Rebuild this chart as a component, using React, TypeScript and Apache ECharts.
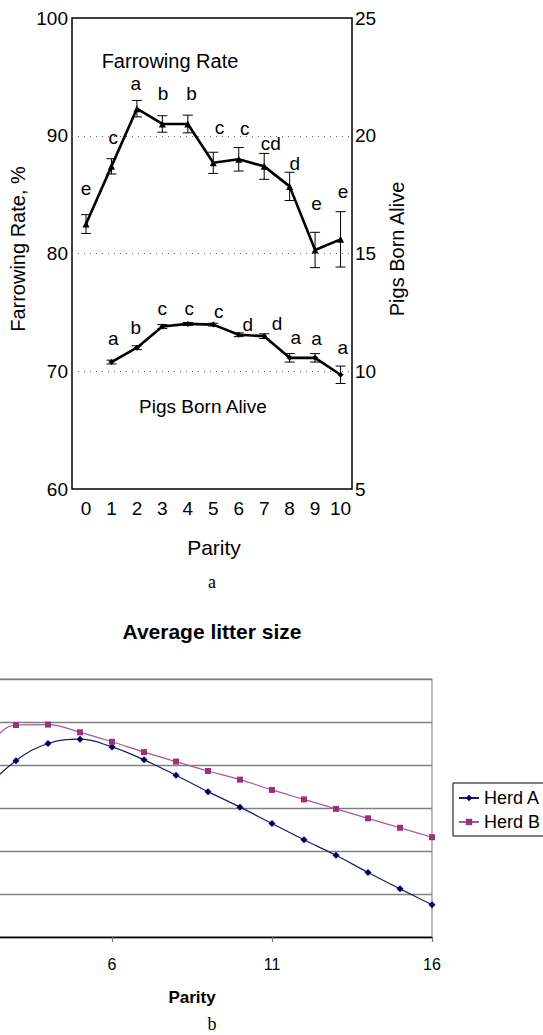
import React, { useEffect, useRef } from "react";
import * as echarts from "echarts";

// ---- Chart a: Farrowing rate & pigs born alive by parity ----
const parity = [0, 1, 2, 3, 4, 5, 6, 7, 8, 9, 10];
const farrowingRate = [82.5, 87.4, 92.3, 91.0, 91.0, 87.7, 88.0, 87.4, 85.7, 80.3, 81.2];
const farrowingErr = [0.8, 0.65, 0.7, 0.7, 0.75, 0.9, 1.0, 1.1, 1.2, 1.5, 2.35];
const farrowingLetters = ["e", "c", "a", "b", "b", "c", "c", "cd", "d", "e", "e"];
const farrowingLetterX = [0, 1.07, 1.96, 3.03, 4.15, 5.24, 6.24, 7.26, 8.2, 9.06, 10.1];
const farrowingLetterY = [85.5, 89.85, 94.4, 93.55, 93.55, 90.7, 90.6, 89.35, 87.65, 84.25, 85.3];

const pbaParity = [1, 2, 3, 4, 5, 6, 7, 8, 9, 10];
const pigsBornAlive = [10.39, 11.0, 11.9, 12.01, 11.98, 11.55, 11.49, 10.57, 10.57, 9.85];
const pbaErr = [0.08, 0.08, 0.08, 0.06, 0.06, 0.08, 0.1, 0.18, 0.18, 0.37];
const pbaLetters = ["a", "b", "c", "c", "c", "d", "d", "a", "a", "a"];
const pbaLetterX = [1.07, 1.96, 3.0, 4.06, 5.22, 6.36, 7.5, 8.24, 9.06, 10.09];
const pbaLetterY = [11.38, 11.87, 12.65, 12.65, 12.55, 11.99, 12.02, 11.42, 11.38, 11.02];

const leftTicks = { min: 60, max: 100, step: 10 };
const rightTicks = { min: 5, max: 25, step: 5 };

// ---- Chart b: Average litter size ----
const herdParity = ["1", "2", "3", "4", "5", "6", "7", "8", "9", "10", "11", "12", "13", "14", "15", "16"];
const herdA = [10.7, 11.2, 11.55, 11.75, 11.8, 11.71, 11.56, 11.38, 11.19, 11.01, 10.82, 10.63, 10.45, 10.25, 10.06, 9.875];
const herdB = [11.2, 11.65, 11.965, 11.97, 11.88, 11.77, 11.65, 11.54, 11.43, 11.33, 11.21, 11.1, 10.99, 10.88, 10.77, 10.66];
const litterTicks = { min: 9.5, max: 12.5, step: 0.5 };

const SANS = "'Liberation Sans', Arial, Helvetica, sans-serif";
const SERIF = "'Liberation Serif', 'Times New Roman', serif";

// the canvas starts left of the page so the cropped left part of chart b is off-screen
const OX = 48;

function errorBarRender(params: any, api: any) {
  const x = api.value(0);
  const lo = api.value(1);
  const hi = api.value(2);
  const top = api.coord([x, hi]);
  const bot = api.coord([x, lo]);
  const hw = 5;
  const style = { stroke: "#000", lineWidth: 1 };
  return {
    type: "group",
    children: [
      { type: "line", shape: { x1: top[0], y1: top[1], x2: bot[0], y2: bot[1] }, style },
      { type: "line", shape: { x1: top[0] - hw, y1: top[1], x2: top[0] + hw, y2: top[1] }, style },
      { type: "line", shape: { x1: bot[0] - hw, y1: bot[1], x2: bot[0] + hw, y2: bot[1] }, style },
    ],
  };
}

function letterRender(letters: string[]) {
  return (params: any, api: any) => {
    const p = api.coord([api.value(0), api.value(1)]);
    return {
      type: "text",
      x: p[0],
      y: p[1],
      style: {
        text: letters[params.dataIndex],
        fontSize: 19,
        fontFamily: SANS,
        fill: "#000",
        align: "center",
        verticalAlign: "middle",
      },
    };
  };
}

function label(text: string, x: number, y: number, fontSize: number, extra: any = {}, rotation = 0) {
  return {
    type: "text",
    x: x + OX,
    y,
    rotation,
    style: {
      text,
      fontSize,
      fontFamily: SANS,
      fill: "#000",
      align: "center",
      verticalAlign: "middle",
      ...extra,
    },
  };
}

export default function App() {
  const ref = useRef<HTMLDivElement>(null);

  useEffect(() => {
    if (!ref.current) return;
    const chart = echarts.init(ref.current, undefined, { renderer: "svg" });

    const option: any = {
      animation: false,
      backgroundColor: "#fff",
      textStyle: { fontFamily: SANS },
      grid: [
        {
          left: 72 + OX,
          top: 18,
          width: 280,
          height: 471,
          show: true,
          borderColor: "#000",
          borderWidth: 1.5,
          backgroundColor: "transparent",
        },
        {
          left: 0,
          top: 679,
          width: 480,
          height: 258,
          show: true,
          borderColor: "#8a8a8a",
          borderWidth: 1.2,
          backgroundColor: "transparent",
        },
      ],
      xAxis: [
        {
          type: "value",
          gridIndex: 0,
          min: -0.55,
          max: 10.45,
          axisLine: { show: false },
          axisTick: { show: false },
          splitLine: { show: false },
          axisLabel: {
            customValues: parity,
            fontSize: 19,
            color: "#000",
            margin: 10,
            fontFamily: SANS,
          },
        },
        {
          type: "category",
          gridIndex: 1,
          data: herdParity,
          boundaryGap: false,
          axisLine: { show: true, lineStyle: { color: "#000", width: 1.3 } },
          axisTick: {
            show: true,
            interval: (i: number) => i % 5 === 0,
            length: 5,
            lineStyle: { color: "#777", width: 1.2 },
          },
          axisLabel: {
            interval: (i: number) => i % 5 === 0 && i > 0,
            fontSize: 16,
            color: "#000",
            margin: 19,
            fontFamily: SANS,
          },
          splitLine: { show: false },
        },
      ],
      yAxis: [
        {
          type: "value",
          gridIndex: 0,
          position: "left",
          min: leftTicks.min,
          max: leftTicks.max,
          interval: leftTicks.step,
          axisLine: { show: false },
          axisTick: { show: false },
          axisLabel: { fontSize: 19, color: "#000", margin: 4, fontFamily: SANS },
          splitLine: {
            show: true,
            showMinLine: false,
            showMaxLine: false,
            lineStyle: { color: "#666", width: 1, type: [1, 5] },
          },
        },
        {
          type: "value",
          gridIndex: 0,
          position: "right",
          min: rightTicks.min,
          max: rightTicks.max,
          interval: rightTicks.step,
          axisLine: { show: false },
          axisTick: { show: false },
          axisLabel: { fontSize: 19, color: "#000", margin: 3, fontFamily: SANS },
          splitLine: { show: false },
        },
        {
          type: "value",
          gridIndex: 1,
          min: litterTicks.min,
          max: litterTicks.max,
          interval: litterTicks.step,
          axisLine: { show: false },
          axisTick: { show: false },
          axisLabel: { show: false },
          splitLine: { show: true, lineStyle: { color: "#808080", width: 1.3 } },
        },
      ],
      legend: {
        data: ["Herd A", "Herd B"],
        orient: "vertical",
        left: 453 + OX,
        top: 783,
        itemWidth: 20,
        itemHeight: 8,
        itemGap: 6,
        padding: [6, 9, 5, 5],
        borderColor: "#000",
        borderWidth: 1,
        textStyle: { fontSize: 18, color: "#000", fontFamily: SANS },
      },
      graphic: [
        label("Farrowing Rate", 170, 61, 20),
        label("Pigs Born Alive", 203, 406, 19),
        label("Farrowing Rate, %", 18, 249, 20, {}, Math.PI / 2),
        label("Pigs Born Alive", 397, 249, 20, {}, Math.PI / 2),
        label("Parity", 214, 547, 21),
        label("a", 212, 582, 18, { fontFamily: SERIF }),
        label("Average litter size", 212, 631, 21, { fontWeight: "bold" }),
        label("Parity", 192, 997, 17, { fontWeight: "bold" }),
        label("b", 212, 1024, 18, { fontFamily: SERIF }),
      ],
      series: [
        {
          name: "Farrowing Rate",
          type: "line",
          xAxisIndex: 0,
          yAxisIndex: 0,
          data: parity.map((p, i) => [p, farrowingRate[i]]),
          symbol: "triangle",
          symbolSize: 7,
          itemStyle: { color: "#000" },
          lineStyle: { color: "#000", width: 2.6 },
          z: 3,
        },
        {
          name: "FR err",
          type: "custom",
          xAxisIndex: 0,
          yAxisIndex: 0,
          data: parity.map((p, i) => [p, farrowingRate[i] - farrowingErr[i], farrowingRate[i] + farrowingErr[i]]),
          encode: { x: 0, y: [1, 2] },
          renderItem: errorBarRender,
          z: 4,
        },
        {
          name: "FR letters",
          type: "custom",
          xAxisIndex: 0,
          yAxisIndex: 0,
          data: farrowingLetterX.map((x, i) => [x, farrowingLetterY[i]]),
          encode: { x: 0, y: 1 },
          renderItem: letterRender(farrowingLetters),
          z: 5,
        },
        {
          name: "Pigs Born Alive",
          type: "line",
          xAxisIndex: 0,
          yAxisIndex: 1,
          data: pbaParity.map((p, i) => [p, pigsBornAlive[i]]),
          symbol: "diamond",
          symbolSize: 6,
          itemStyle: { color: "#000" },
          lineStyle: { color: "#000", width: 2.6 },
          z: 3,
        },
        {
          name: "PBA err",
          type: "custom",
          xAxisIndex: 0,
          yAxisIndex: 1,
          data: pbaParity.map((p, i) => [p, pigsBornAlive[i] - pbaErr[i], pigsBornAlive[i] + pbaErr[i]]),
          encode: { x: 0, y: [1, 2] },
          renderItem: errorBarRender,
          z: 4,
        },
        {
          name: "PBA letters",
          type: "custom",
          xAxisIndex: 0,
          yAxisIndex: 1,
          data: pbaLetterX.map((x, i) => [x, pbaLetterY[i]]),
          encode: { x: 0, y: 1 },
          renderItem: letterRender(pbaLetters),
          z: 5,
        },
        {
          name: "Herd A",
          type: "line",
          xAxisIndex: 1,
          yAxisIndex: 2,
          data: herdA,
          smooth: 0.4,
          symbol: "diamond",
          symbolSize: 7,
          itemStyle: { color: "#000066" },
          lineStyle: { color: "#1a1a6e", width: 1.2 },
        },
        {
          name: "Herd B",
          type: "line",
          xAxisIndex: 1,
          yAxisIndex: 2,
          data: herdB,
          smooth: 0.4,
          symbol: "rect",
          symbolSize: 6,
          itemStyle: { color: "#993377" },
          lineStyle: { color: "#a8589a", width: 1.2 },
        },
      ],
    };

    chart.setOption(option);
    return () => chart.dispose();
  }, []);

  return (
    <div
      ref={ref}
      style={{ position: "absolute", left: -OX, top: 0, width: 543 + OX, height: 1035, background: "#fff" }}
    />
  );
}
